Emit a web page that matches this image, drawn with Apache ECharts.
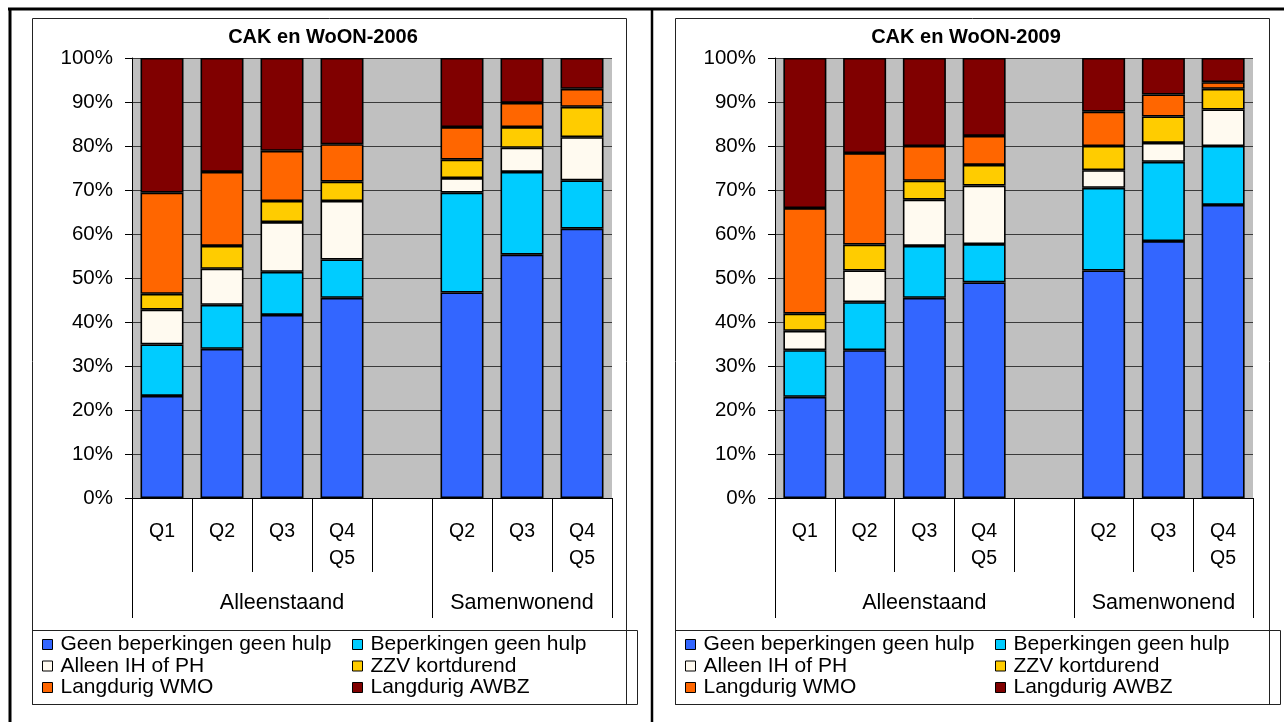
<!DOCTYPE html>
<html><head><meta charset="utf-8">
<script src="https://cdn.jsdelivr.net/npm/echarts@6/dist/echarts.min.js"></script>
<style>html,body{margin:0;padding:0;background:#fff}#c{width:1284px;height:722px}</style>
</head><body><div id="c"></div>
<script>
// ---------- data ----------
const categories = ['Q1', 'Q2', 'Q3', 'Q4\nQ5', '', 'Q2', 'Q3', 'Q4\nQ5'];
const groups = ['Alleenstaand', 'Samenwonend'];
const groupSizes = [5, 3];
const titles = ['CAK en WoON-2006', 'CAK en WoON-2009'];
const seriesNames = ['Geen beperkingen geen hulp', 'Beperkingen geen hulp', 'Alleen IH of PH',
  'ZZV kortdurend', 'Langdurig WMO', 'Langdurig AWBZ'];
const colors = ['#3366FF', '#00CCFF', '#FFFAF0', '#FFCC00', '#FF6600', '#800000'];

const geen2006   = [23.2, 33.9, 41.6, 45.5, null, 46.7, 55.3, 61.2];
const beperk2006 = [11.7, 10.0,  9.8,  8.7, null, 22.7, 18.8, 11.0];
const alleen2006 = [ 7.9,  8.2, 11.3, 13.3, null,  3.3,  5.5,  9.8];
const zzv2006    = [ 3.6,  5.2,  4.8,  4.4, null,  4.2,  4.7,  6.9];
const wmo2006    = [23.0, 16.8, 11.4,  8.5, null,  7.4,  5.5,  4.1];
const awbz2006   = [30.6, 25.9, 21.1, 19.6, null, 15.7, 10.2,  7.0];

const geen2009   = [23.0, 33.6, 45.5, 49.0, null, 51.7, 58.4, 66.6];
const beperk2009 = [10.6, 10.9, 11.8,  8.7, null, 18.8, 18.0, 13.4];
const alleen2009 = [ 4.4,  7.2, 10.5, 13.3, null,  4.0,  4.3,  8.3];
const zzv2009    = [ 3.9,  5.9,  4.3,  4.7, null,  5.5,  6.0,  4.7];
const wmo2009    = [24.0, 20.8,  7.9,  6.6, null,  7.8,  5.0,  1.5];
const awbz2009   = [34.1, 21.6, 20.0, 17.7, null, 12.2,  8.3,  5.5];

const panels = [
  [geen2006, beperk2006, alleen2006, zzv2006, wmo2006, awbz2006],
  [geen2009, beperk2009, alleen2009, zzv2009, wmo2009, awbz2009]
];

// ---------- layout ----------
const FONT = '"Liberation Sans", Arial, sans-serif';
const grids = [
  {left: 132, top: 58, width: 480, height: 440},
  {left: 775, top: 58, width: 478, height: 440}
];
const panelOffset = [0, 643];

const boundaries = [0];
groupSizes.forEach(s => boundaries.push(boundaries[boundaries.length - 1] + s));
const centers = groupSizes.map((s, i) => boundaries[i] + s / 2);

const option = {
  animation: false,
  backgroundColor: '#fff',
  textStyle: {fontFamily: FONT, color: '#000'},
  grid: grids.map(g => Object.assign({show: true, backgroundColor: '#C0C0C0', borderWidth: 0}, g)),
  title: titles.map((t, i) => ({
    text: t, left: 323 + panelOffset[i], top: 27, textAlign: 'center', padding: 0,
    textStyle: {fontFamily: FONT, fontWeight: 'bold', fontSize: 20, color: '#000'}
  })),
  xAxis: [],
  yAxis: [],
  legend: [],
  series: [],
  graphic: []
};

[0, 1].forEach(g => {
  option.xAxis.push({
    type: 'category', gridIndex: g, data: categories,
    axisLine: {lineStyle: {color: '#000', width: 1}},
    axisTick: {show: true, interval: 0, length: 74, lineStyle: {color: '#000'}},
    axisLabel: {interval: 0, margin: 20, fontSize: 19.5, lineHeight: 27, color: '#000', fontFamily: FONT},
    splitLine: {show: false}
  });
  option.xAxis.push({
    type: 'value', gridIndex: g, min: 0, max: categories.length, position: 'bottom',
    axisLine: {show: false},
    axisTick: {show: true, customValues: boundaries, length: 120, lineStyle: {color: '#000'}},
    axisLabel: {show: true, customValues: centers, margin: 94, fontSize: 21.5, color: '#000', fontFamily: FONT,
      formatter: v => groups[centers.indexOf(v)] || ''},
    splitLine: {show: false}
  });
  option.yAxis.push({
    type: 'value', gridIndex: g, min: 0, max: 100, interval: 10,
    axisLine: {show: true, lineStyle: {color: '#000'}},
    axisTick: {show: true, length: 7, lineStyle: {color: '#000'}},
    axisLabel: {formatter: '{value}%', margin: 19, fontSize: 20.5, color: '#000', fontFamily: FONT},
    splitLine: {show: true, lineStyle: {color: '#3a3a3a', width: 1}}
  });
  panels[g].forEach((data, k) => {
    option.series.push({
      type: 'bar', name: seriesNames[k], xAxisIndex: g * 2, yAxisIndex: g, stack: 'p' + g,
      barWidth: 43, data: data,
      itemStyle: {color: colors[k], borderColor: '#000', borderWidth: 1.6}
    });
  });
  const off = panelOffset[g];
  [[0, 2, 4], [1, 3, 5]].forEach((idx, col) => {
    option.legend.push({
      orient: 'vertical', left: (col === 0 ? 42 : 352) + off, top: 634, padding: 0,
      itemWidth: 10, itemHeight: 10, itemGap: 0.5, icon: 'rect',
      data: idx.map(i => seriesNames[i]),
      itemStyle: {borderColor: '#000', borderWidth: 1},
      textStyle: {fontSize: 21, lineHeight: 20, color: '#000', fontFamily: FONT, padding: [0, 0, 0, 3]},
      selectedMode: false
    });
  });
  // chart area frame and legend frame
  option.graphic.push({type: 'rect', shape: {x: 32.5 + off, y: 18.5, width: 594, height: 686},
    style: {fill: 'none', stroke: '#222', lineWidth: 1}, silent: true});
  option.graphic.push({type: 'rect', shape: {x: 32.5 + off, y: 630.5, width: 605, height: 74},
    style: {fill: 'none', stroke: '#222', lineWidth: 1}, silent: true});
});

// outer page frame lines
option.graphic.push({type: 'line', shape: {x1: 8, y1: 9, x2: 1284, y2: 9}, style: {stroke: '#000', lineWidth: 3}, silent: true});
option.graphic.push({type: 'line', shape: {x1: 10, y1: 8, x2: 10, y2: 722}, style: {stroke: '#000', lineWidth: 3}, silent: true});
option.graphic.push({type: 'line', shape: {x1: 652, y1: 8, x2: 652, y2: 722}, style: {stroke: '#000', lineWidth: 2.5}, silent: true});

const chart = echarts.init(document.getElementById('c'), null, {renderer: 'canvas'});
chart.setOption(option);
</script>
</body></html>
